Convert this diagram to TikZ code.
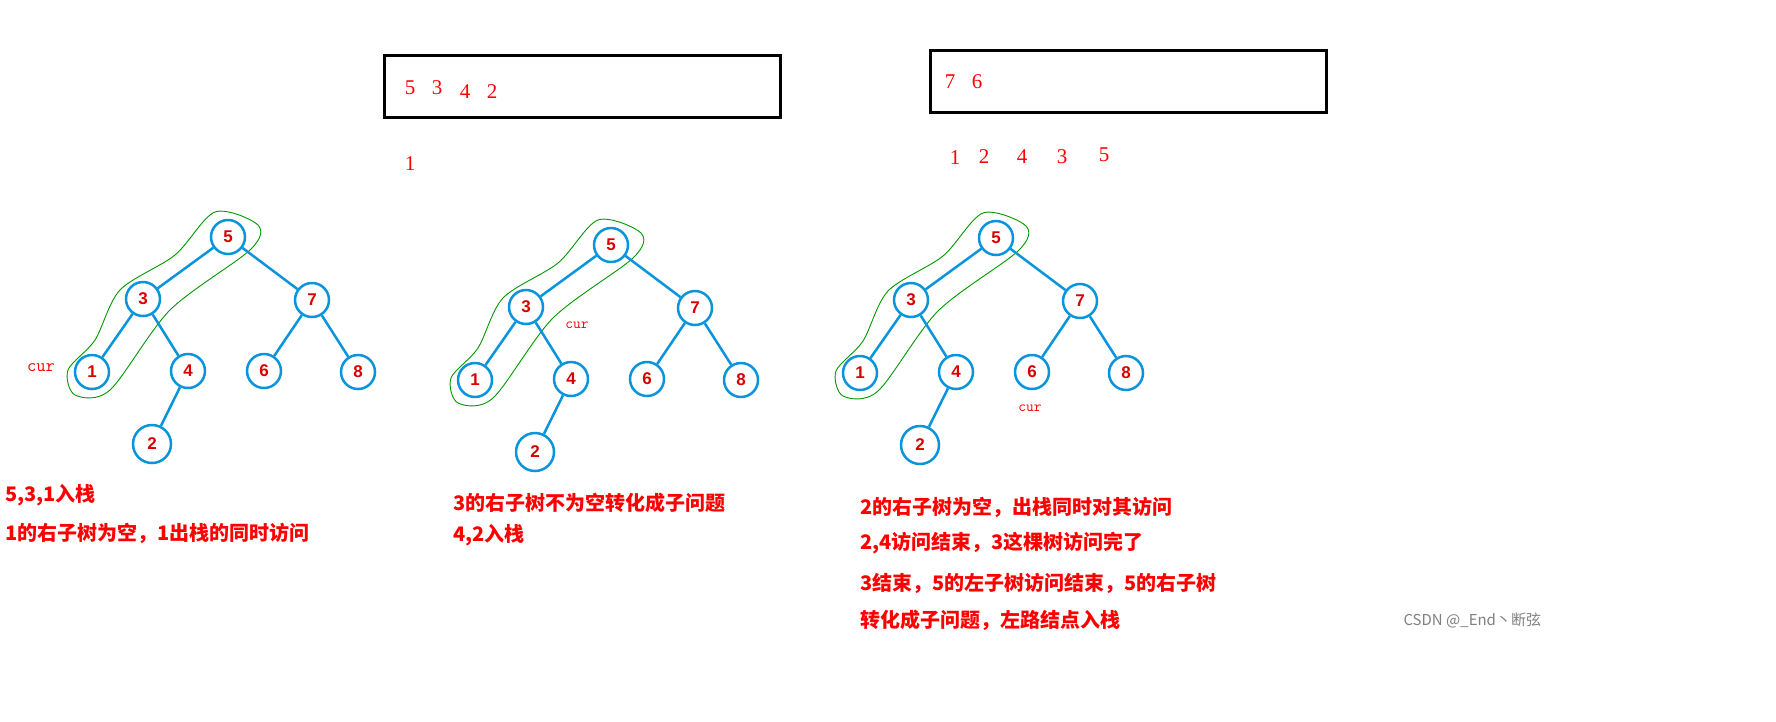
\documentclass[tikz,border=0pt]{standalone}
\usepackage{fontspec}
\setmainfont{Liberation Serif}
\newfontfamily\cjk{Noto Sans CJK SC}
\newfontfamily\lsans{Liberation Sans}
\begin{document}
\begin{tikzpicture}[x=1pt,y=-1pt,
  tn/.style={circle,draw=cyan!80!blue,line width=2.5pt,fill=white,minimum size=34pt,inner sep=0pt,text=red!85!black,font=\lsans\bfseries\fontsize{17}{17}\selectfont},
  big/.style={minimum size=38pt},
  ed/.style={draw=cyan!80!blue,line width=2.5pt},
  rt/.style={text=red,font=\fontsize{21}{21}\selectfont,inner sep=0pt},
  ct/.style={text=red,font=\cjk\bfseries\fontsize{20}{20}\selectfont,anchor=west,inner sep=0pt},
  loop/.style={draw=green!60!black,line width=0.9pt}]
\useasboundingbox (0,0) rectangle (1776,721);
\fill[white] (0,0) rectangle (1776,721);
\newcommand\tree[9]{%
 \begin{scope}[shift={(#1,#2)}]
 \draw[loop] plot[smooth cycle] coordinates {(-13,-25)(30,-12)(22,13)(-58,73)(-118,153)(-153,158)(-160,133)(-133,103)(-108,53)(-53,18)};
 \node[tn] (#3a) at (0,0) {5};
 \node[tn] (#3b) at (-85,62) {3};
 \node[tn] (#3c) at (84,63) {7};
 \node[tn] (#3d) at (-136,135) {1};
 \node[tn] (#3e) at (-40,134) {4};
 \node[tn] (#3f) at (36,134) {6};
 \node[tn] (#3g) at (130,135) {8};
 \node[tn,big] (#3h) at (-76,207) {2};
 \draw[ed] (#3a)--(#3b) (#3a)--(#3c) (#3b)--(#3d) (#3b)--(#3e) (#3c)--(#3f) (#3c)--(#3g) (#3e)--(#3h);
 \end{scope}}
\tree{228}{237}{A}{}{}{}{}{}{}
\tree{611}{245}{B}{}{}{}{}{}{}
\tree{996}{238}{C}{}{}{}{}{}{}
\node[draw,line width=2.5pt,minimum width=396pt,minimum height=62pt,anchor=north west] (box1) at (383,54) {};
\node[draw,line width=2.5pt,minimum width=396pt,minimum height=62pt,anchor=north west] (box2) at (929,49) {};
\node[rt] (s1) at (410,88) {5};\node[rt] at (437,88) {3};\node[rt] at (465,92) {4};\node[rt] at (492,92) {2};
\node[rt] (s2) at (950,82) {7};\node[rt] at (977,82) {6};
\node[rt] (o1) at (410,164) {1};
\node[rt] at (955,158) {1};\node[rt] at (984,157) {2};\node[rt] at (1022,157) {4};\node[rt] at (1062,157) {3};\node[rt] at (1104,155) {5};
\node[text=red,font=\ttfamily\fontsize{18}{18}\selectfont] (c1) at (41,368) {cur};
\node[text=red,font=\ttfamily\fontsize{15}{15}\selectfont] (c2) at (577,325) {cur};
\node[text=red,font=\ttfamily\fontsize{15}{15}\selectfont] (c3) at (1030,408) {cur};
\node[ct] (t1) at (5,495) {5,3,1入栈};
\node[ct] (t2) at (5,533) {1的右子树为空，1出栈的同时访问};
\node[ct] (t3) at (453,503) {3的右子树不为空转化成子问题};
\node[ct] (t4) at (453,535) {4,2入栈};
\node[ct] (t5) at (860,507) {2的右子树为空，出栈同时对其访问};
\node[ct] (t6) at (860,543) {2,4访问结束，3这棵树访问完了};
\node[ct] (t7) at (860,583) {3结束，5的左子树访问结束，5的右子树};
\node[ct] (t8) at (860,620) {转化成子问题，左路结点入栈};
\node[text=gray,font=\cjk\fontsize{15}{15}\selectfont,anchor=west] (wm) at (1400,620) {CSDN @\_End丶断弦};
\end{tikzpicture}
\end{document}
